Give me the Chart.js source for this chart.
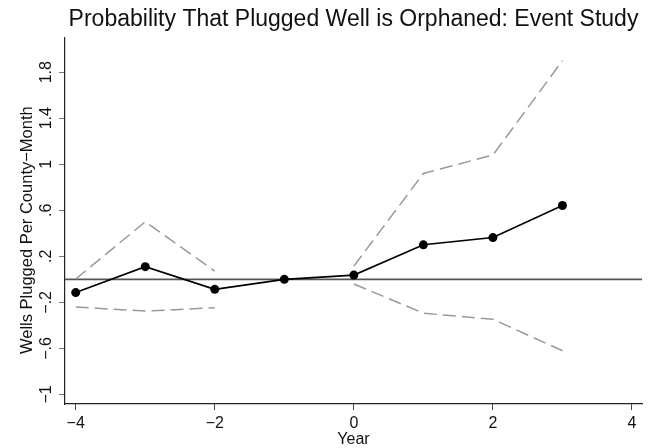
<!DOCTYPE html>
<html>
<head>
<meta charset="utf-8">
<script src="https://cdn.jsdelivr.net/npm/chart.js@4"></script>
<style>
  html, body { margin: 0; padding: 0; background: #fff; }
  #chart { display: block; }
</style>
</head>
<body>
<canvas id="chart" width="655" height="448"></canvas>
<script>
// Event-study coefficients and 95% CI bounds (year -1 is the omitted reference year)
const years = [-4, -3, -2, -1, 0, 1, 2, 3];
const estimate = [-0.115, 0.11, -0.087, 0, 0.037, 0.30, 0.363, 0.642];
const upperCI = [0.003, 0.50, 0.072, null, 0.115, 0.92, 1.08, 1.90];
const lowerCI = [-0.24, -0.276, -0.247, null, -0.04, -0.294, -0.347, -0.62];

const xTicks = [-4, -2, 0, 2, 4];
const yTicks = [-1, -0.6, -0.2, 0.2, 0.6, 1, 1.4, 1.8];

const FONT = 'Liberation Sans, Arial, Helvetica, sans-serif';

// Stata-style number labels: ".6", "−.2", "−1"
const stataLabel = (v) => {
  let s = String(Math.round(Math.abs(v) * 10) / 10);
  if (s.startsWith('0.')) s = s.slice(1);
  return v < 0 ? '\u2212' + s : s;
};

const toPoints = (vals) => years.map((x, i) => ({ x, y: vals[i] }));

// Horizontal reference line at zero
const zeroLine = {
  id: 'zeroLine',
  beforeDatasetsDraw(chart) {
    const { ctx, chartArea, scales } = chart;
    const y = scales.y.getPixelForValue(0);
    ctx.save();
    ctx.strokeStyle = '#555';
    ctx.lineWidth = 1.8;
    ctx.beginPath();
    ctx.moveTo(chartArea.left, y);
    ctx.lineTo(chartArea.right, y);
    ctx.stroke();
    ctx.restore();
  }
};

const whiteBg = {
  id: 'whiteBg',
  beforeDraw(chart) {
    const { ctx, width, height } = chart;
    ctx.save();
    ctx.fillStyle = '#fff';
    ctx.fillRect(0, 0, width, height);
    ctx.restore();
  }
};

new Chart(document.getElementById('chart'), {
  type: 'line',
  data: {
    datasets: [
      {
        label: 'Estimate',
        data: toPoints(estimate),
        borderColor: '#000',
        backgroundColor: '#000',
        borderWidth: 1.6,
        pointRadius: 4.5,
        pointBorderWidth: 0,
        tension: 0
      },
      {
        label: 'Upper CI',
        data: toPoints(upperCI),
        borderColor: '#999',
        borderWidth: 1.5,
        borderDash: [13, 6],
        pointRadius: 0,
        spanGaps: false,
        tension: 0
      },
      {
        label: 'Lower CI',
        data: toPoints(lowerCI),
        borderColor: '#999',
        borderWidth: 1.5,
        borderDash: [13, 6],
        pointRadius: 0,
        spanGaps: false,
        tension: 0
      }
    ]
  },
  options: {
    responsive: false,
    animation: false,
    events: [],
    layout: { padding: { left: 0, right: 13, top: 0, bottom: 0 } },
    plugins: {
      legend: { display: false },
      tooltip: { enabled: false },
      title: {
        display: true,
        fullSize: false,
        text: 'Probability That Plugged Well is Orphaned: Event Study',
        color: '#111',
        font: { family: FONT, size: 23, weight: 'normal', lineHeight: 1.2 },
        padding: { top: 6, bottom: 4.4 }
      }
    },
    scales: {
      x: {
        type: 'linear',
        min: -4.154,
        max: 4.144,
        afterBuildTicks: (scale) => { scale.ticks = xTicks.map(v => ({ value: v })); },
        afterFit: (scale) => { scale.height = 44; },
        border: { display: true, color: '#222', width: 1.2 },
        grid: { drawOnChartArea: false, tickLength: 6, color: '#444' },
        ticks: {
          color: '#111',
          font: { family: FONT, size: 16 },
          padding: 4,
          maxRotation: 0,
          callback: (v) => stataLabel(v)
        },
        title: {
          display: true,
          text: 'Year',
          color: '#111',
          font: { family: FONT, size: 16 },
          padding: { top: 0, bottom: -1 }
        }
      },
      y: {
        type: 'linear',
        min: -1.083,
        max: 2.097,
        afterBuildTicks: (scale) => { scale.ticks = yTicks.map(v => ({ value: v })); },
        afterFit: (scale) => { scale.width = 65; },
        border: { display: true, color: '#222', width: 1.2 },
        grid: { drawOnChartArea: false, tickLength: 6, color: '#777' },
        ticks: {
          color: '#111',
          font: { family: FONT, size: 16 },
          padding: 1,
          minRotation: 90,
          maxRotation: 90,
          crossAlign: 'center',
          callback: (v) => stataLabel(v)
        },
        title: {
          display: true,
          text: 'Wells Plugged Per County\u2212Month    ',
          color: '#111',
          font: { family: FONT, size: 16.5 },
          padding: { top: 18, bottom: 0 }
        }
      }
    }
  },
  plugins: [whiteBg, zeroLine]
});
</script>
</body>
</html>
